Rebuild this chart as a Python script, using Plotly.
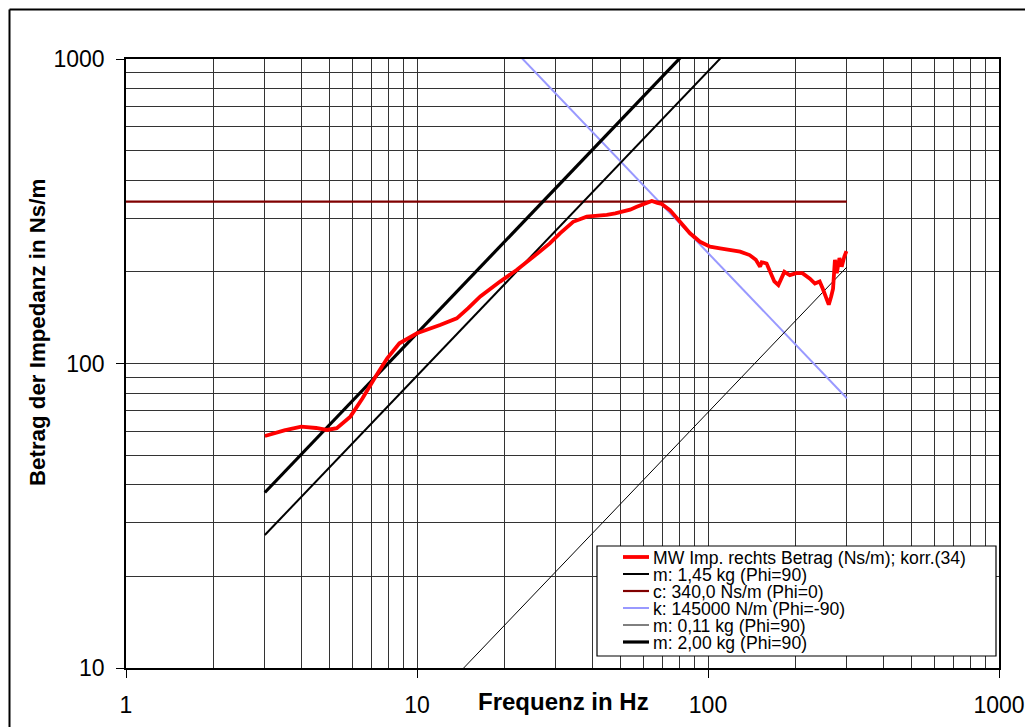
import plotly.graph_objects as go
import math

# ---------------- data ----------------
meas_freq = [3.0, 3.5, 4.0, 4.5, 4.9, 5.3, 5.9, 6.5, 7.2, 7.9, 8.7, 10.0, 12.0, 13.7, 15.0, 16.5,
             19.3, 22.0, 25.1, 28.6, 31.0, 34.4, 38.3, 42.0, 44.9, 48.0, 51.2, 54.0, 56.9, 60.0,
             64.1, 67.0, 69.3, 74.0, 80.1, 86.7, 93.9, 101.6, 110, 120, 129, 139, 146, 151, 153,
             159, 165, 169, 174.5, 179, 183, 191, 201, 211, 224, 233, 242, 248, 254, 260, 265,
             269, 273, 277, 283, 288, 294, 299]
meas_z = [57.8, 60.3, 62.0, 61.4, 60.5, 61.3, 66.9, 76.9, 90.5, 104, 116.5, 125.7, 133.8, 140.7, 152, 166,
          185.8, 202.8, 224, 248, 267.7, 292, 303.6, 305, 307.5, 311, 315, 320, 327, 333,
          341.8, 337, 334, 319, 292, 267.7, 251, 241.8, 238.9, 235, 233, 227, 219, 208, 215,
          213, 198, 186, 181, 193, 200, 195, 198, 198, 190, 183, 186, 176, 164, 156, 166,
          176, 219, 198, 222, 208, 224, 234]

mass_a_kg = 1.45      # m: 1,45 kg
damping_c = 340.0     # c: 340,0 Ns/m
stiff_k = 145000.0    # k: 145000 N/m
mass_b_kg = 0.11      # m: 0,11 kg
mass_c_kg = 2.00      # m: 2,00 kg
model_freq = [3.0, 300.0]
damp_freq = [1.0, 300.0]

legend_labels = ["MW Imp. rechts Betrag (Ns/m); korr.(34)",
                 "m: 1,45 kg (Phi=90)",
                 "c: 340,0 Ns/m (Phi=0)",
                 "k: 145000 N/m (Phi=-90)",
                 "m: 0,11 kg (Phi=90)",
                 "m: 2,00 kg (Phi=90)"]

x_tickvals = [1, 10, 100, 1000]
x_ticktext = ["1", "10", "100", "1000"]
y_tickvals = [10, 100, 1000]
y_ticktext = ["10", "100", "1000"]
x_minor = [d * 10 ** e for e in range(0, 3) for d in range(2, 10)]
y_minor = [d * 10 ** e for e in range(1, 3) for d in range(2, 10)]

# ---------------- derived model lines ----------------
def mass_line(m):
    return [2 * math.pi * f * m for f in model_freq]

z_mass_a = mass_line(mass_a_kg)
z_mass_b = mass_line(mass_b_kg)
z_mass_c = mass_line(mass_c_kg)
z_damp = [damping_c for _ in damp_freq]
z_stiff = [stiff_k / (2 * math.pi * f) for f in model_freq]

FONT = "Arial, Liberation Sans, sans-serif"
RED = "#FF0000"
DARKRED = "#800000"
BLUE = "#9999FF"

styles = [
    (RED, 3.8),
    ("#000000", 2),
    (DARKRED, 2.2),
    (BLUE, 2),
    ("#000000", 1),
    ("#000000", 3.2),
]

fig = go.Figure()
fig.add_trace(go.Scatter(x=model_freq, y=z_stiff, mode="lines", line=dict(color=BLUE, width=styles[3][1]), showlegend=False))
fig.add_trace(go.Scatter(x=damp_freq, y=z_damp, mode="lines", line=dict(color=DARKRED, width=styles[2][1]), showlegend=False))
fig.add_trace(go.Scatter(x=model_freq, y=z_mass_b, mode="lines", line=dict(color="#000000", width=styles[4][1]), showlegend=False))
fig.add_trace(go.Scatter(x=model_freq, y=z_mass_a, mode="lines", line=dict(color="#000000", width=styles[1][1]), showlegend=False))
fig.add_trace(go.Scatter(x=model_freq, y=z_mass_c, mode="lines", line=dict(color="#000000", width=styles[5][1]), showlegend=False))
fig.add_trace(go.Scatter(x=meas_freq, y=meas_z, mode="lines", line=dict(color=RED, width=styles[0][1]), showlegend=False))

# geometry in pixels
W, H = 1025, 727
PL, PR, PT, PB = 126, 999, 59, 668

def px(x):
    return (x - PL) / (PR - PL)

def py(y):
    return (PB - y) / (PB - PT)

GRID = "#333333"
axis_common = dict(
    type="log", automargin=False,
    showgrid=True, gridcolor=GRID, gridwidth=1,
    showline=True, linecolor="#000000", linewidth=1.6, mirror=True,
    ticks="outside", ticklen=8, tickwidth=1.2, tickcolor="#000000",
    tickfont=dict(family=FONT, size=23, color="#000000"),
    zeroline=False,
)

fig.update_xaxes(range=[0, 3], tickvals=x_tickvals, ticktext=x_ticktext,
                 minor=dict(tickvals=x_minor, showgrid=True, gridcolor=GRID, gridwidth=1, ticks=""),
                 ticklabelstandoff=8, **axis_common)
fig.update_yaxes(range=[1, 3], tickvals=y_tickvals, ticktext=y_ticktext,
                 minor=dict(tickvals=y_minor, showgrid=True, gridcolor=GRID, gridwidth=1, ticks=""),
                 ticklabelstandoff=7, **axis_common)

shapes = []
annotations = []
# outer frame (top and left edges visible; right/bottom lie outside the picture)
shapes.append(dict(type="line", xref="paper", yref="paper",
                   x0=px(9.5), x1=px(W), y0=py(9.5), y1=py(9.5),
                   line=dict(color="#000000", width=2), layer="above"))
shapes.append(dict(type="line", xref="paper", yref="paper",
                   x0=px(9.5), x1=px(9.5), y0=py(9.5), y1=py(H),
                   line=dict(color="#000000", width=2), layer="above"))
# legend box
shapes.append(dict(type="rect", xref="paper", yref="paper",
                   x0=px(597), x1=px(996), y0=py(656), y1=py(546),
                   line=dict(color="#000000", width=1.2), fillcolor="#FFFFFF", layer="above"))
for i, (lab, (col, w)) in enumerate(zip(legend_labels, styles)):
    yy = 557 + 17 * i
    shapes.append(dict(type="line", xref="paper", yref="paper",
                       x0=px(623), x1=px(649), y0=py(yy), y1=py(yy),
                       line=dict(color=col, width=w), layer="above"))
    annotations.append(dict(text=lab, xref="paper", yref="paper", x=px(651), y=py(yy + 0.5),
                            xanchor="left", yanchor="middle", showarrow=False,
                            font=dict(family=FONT, size=17.6, color="#000000")))

# axis titles
annotations.append(dict(text="<b>Frequenz in Hz</b>", xref="paper", yref="paper",
                        x=px(563), y=py(701), xanchor="center", yanchor="middle", showarrow=False,
                        font=dict(family=FONT, size=24, color="#000000")))
annotations.append(dict(text="<b>Betrag der Impedanz in Ns/m</b>", xref="paper", yref="paper",
                        x=px(37), y=py(333), xanchor="center", yanchor="middle", showarrow=False,
                        textangle=-90, font=dict(family=FONT, size=22.3, color="#000000")))

fig.update_layout(
    width=W, height=H, autosize=False,
    margin=dict(l=PL, r=W - PR, t=PT, b=H - PB, autoexpand=False),
    paper_bgcolor="#FFFFFF", plot_bgcolor="#FFFFFF",
    shapes=shapes, annotations=annotations,
    showlegend=False,
    font=dict(family=FONT, color="#000000"),
)

fig.write_html("out.html")
